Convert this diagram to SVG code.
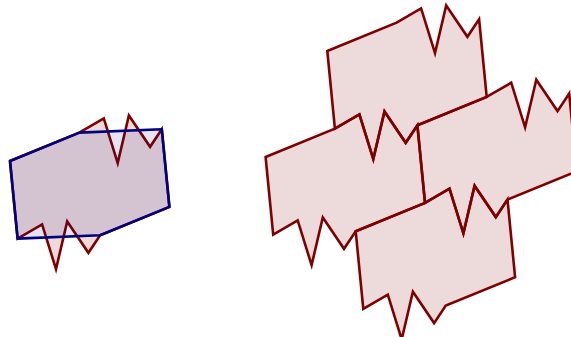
<svg xmlns="http://www.w3.org/2000/svg" width="571" height="337" viewBox="0 0 571 337">
<style>
.tile{fill:#800000;fill-opacity:0.14;stroke:#800000;stroke-width:2.6;stroke-linejoin:miter;stroke-miterlimit:10}
.hex{fill:#000080;fill-opacity:0.1;stroke:#000080;stroke-width:2.6;stroke-linejoin:round}
</style>
<defs>
<path id="tilePath" d="M0,0 L69.3,-28.4 L93.8,-42.6 L107.7,2.1 L118.9,-45.5 L140.1,-14.2 L151.8,-31.7 L159.4,45.9 L90.1,74.3 L78.4,91.8 L57.2,60.5 L46,108.1 L32.1,63.4 L7.6,77.6 Z"/>
</defs>
<rect width="571" height="337" fill="#ffffff"/>
<g id="left-figure">
<g id="left-tile"><use href="#tilePath" class="tile" transform="translate(10,161)"/></g>
<g id="left-hexagon"><path class="hex" transform="translate(10,161)" d="M0,0 L69.3,-28.4 L151.8,-31.7 L159.4,45.9 L90.1,74.3 L7.6,77.6 Z"/></g>
</g>
<g id="tile-top"><use href="#tilePath" class="tile" transform="translate(327.3,51)"/></g>
<g id="tile-left"><use href="#tilePath" class="tile" transform="translate(265.6,157)"/></g>
<g id="tile-right"><use href="#tilePath" class="tile" transform="translate(417.4,125.3)"/></g>
<g id="tile-bottom"><use href="#tilePath" class="tile" transform="translate(355.7,231.3)"/></g>
</svg>
